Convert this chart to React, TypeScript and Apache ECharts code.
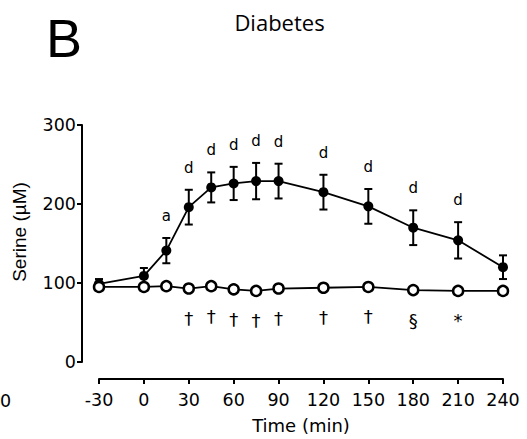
import React, { useEffect, useRef } from "react";
import * as echarts from "echarts";

const times = [-30, 0, 15, 30, 45, 60, 75, 90, 120, 150, 180, 210, 240];
const diabetesMean = [99, 109, 141, 196, 221, 226, 229, 229, 215, 197, 170, 154, 120];
const diabetesSem = [6, 10, 16, 22, 19, 21, 23, 22, 22, 22, 22, 23, 15];
const controlMean = [95, 95, 96, 93, 96, 92, 90, 93, 94, 95, 91, 90, 90];
const controlSem = [4, 4, 3, 4, 3, 4, 3, 3, 3, 3, 3, 3, 3];
const upperMarks = ["", "", "a", "d", "d", "d", "d", "d", "d", "d", "d", "d", ""];
const lowerMarks = ["", "", "", "†", "†", "†", "†", "†", "†", "†", "§", "*", ""];
const xTicks = { min: -30, max: 240, interval: 30 };
const yTicks = { min: 0, max: 300, interval: 100 };

const AXIS_FONT = "DejaVu Sans";

function errorBarSeries(mean: number[], sem: number[], z: number) {
  return {
    type: "custom",
    z,
    renderItem: (params: any, api: any) => {
      const x = api.value(0);
      const lo = api.coord([x, api.value(1)]);
      const hi = api.coord([x, api.value(2)]);
      const cap = 4;
      const st = { stroke: "#000", lineWidth: 2 };
      return {
        type: "group",
        children: [
          { type: "line", shape: { x1: lo[0], y1: lo[1], x2: hi[0], y2: hi[1] }, style: st },
          { type: "line", shape: { x1: lo[0] - cap, y1: lo[1], x2: lo[0] + cap, y2: lo[1] }, style: st },
          { type: "line", shape: { x1: hi[0] - cap, y1: hi[1], x2: hi[0] + cap, y2: hi[1] }, style: st },
        ],
      };
    },
    encode: { x: 0, y: [1, 2] },
    data: times.map((t, i) => [t, mean[i] - sem[i], mean[i] + sem[i]]),
    silent: true,
  };
}

export default function App() {
  const ref = useRef<HTMLDivElement>(null);
  useEffect(() => {
    if (!ref.current) return;
    const chart = echarts.init(ref.current, undefined, { renderer: "svg" });
    chart.setOption({
      animation: false,
      backgroundColor: "#fff",
      grid: { left: 99, right: 24, top: 125, bottom: 77 },
      xAxis: {
        type: "value",
        min: xTicks.min,
        max: xTicks.max,
        interval: xTicks.interval,
        offset: 17,
        name: "Time (min)",
        nameLocation: "middle",
        nameGap: 37,
        nameTextStyle: { fontFamily: AXIS_FONT, fontSize: 18, color: "#000" },
        axisLine: { show: true, onZero: false, lineStyle: { color: "#000", width: 2 } },
        axisTick: { show: true, length: 5, lineStyle: { color: "#000", width: 2 } },
        axisLabel: { fontFamily: AXIS_FONT, fontSize: 17.5, color: "#000", margin: 12 },
        splitLine: { show: false },
      },
      yAxis: {
        type: "value",
        min: yTicks.min,
        max: yTicks.max,
        interval: yTicks.interval,
        offset: 17,
        axisLine: { show: true, onZero: false, lineStyle: { color: "#000", width: 2 } },
        axisTick: { show: true, length: 5, lineStyle: { color: "#000", width: 2 } },
        axisLabel: { fontFamily: AXIS_FONT, fontSize: 17.5, color: "#000", margin: 6 },
        splitLine: { show: false },
      },
      graphic: [
        {
          type: "text",
          x: 279.5,
          y: 22,
          style: { text: "Diabetes", fontFamily: "Open Sans", fontSize: 22, fill: "#000", align: "center", verticalAlign: "middle" },
        },
        {
          type: "text",
          x: 46,
          y: 38,
          style: { text: "B", fontFamily: "Liberation Sans", fontSize: 54, fill: "#000", align: "left", verticalAlign: "middle" },
        },
        {
          type: "text",
          x: 19.5,
          y: 232,
          rotation: Math.PI / 2,
          style: { text: "Serine (µM)", fontFamily: "Liberation Sans", fontSize: 19, fill: "#000", align: "center", verticalAlign: "middle" },
        },
        {
          type: "text",
          x: 0,
          y: 401,
          style: { text: "0", fontFamily: AXIS_FONT, fontSize: 17.5, fill: "#000", align: "left", verticalAlign: "middle" },
        },
      ],
      series: [
        errorBarSeries(diabetesMean, diabetesSem, 2),
        {
          type: "line",
          z: 3,
          data: times.map((t, i) => [t, diabetesMean[i]]),
          symbol: "circle",
          symbolSize: 10,
          lineStyle: { color: "#000", width: 1.8 },
          itemStyle: { color: "#000" },
        },
        errorBarSeries(controlMean, controlSem, 4),
        {
          type: "line",
          z: 5,
          data: times.map((t, i) => [t, controlMean[i]]),
          symbol: "circle",
          symbolSize: 10,
          lineStyle: { color: "#000", width: 1.8 },
          itemStyle: { color: "#fff", borderColor: "#000", borderWidth: 2.5 },
        },
        {
          type: "custom",
          z: 6,
          silent: true,
          encode: { x: 0, y: 1 },
          data: times.map((t, i) => [t, diabetesMean[i] + diabetesSem[i]]),
          renderItem: (params: any, api: any) => {
            const p = api.coord([api.value(0), api.value(1)]);
            return {
              type: "text",
              x: p[0],
              y: p[1] - 22,
              style: { text: upperMarks[params.dataIndex], fontFamily: AXIS_FONT, fontSize: 15, fill: "#000", align: "center", verticalAlign: "middle" },
            };
          },
        },
        {
          type: "custom",
          z: 6,
          silent: true,
          encode: { x: 0, y: 1 },
          data: times.map((t, i) => [t, controlMean[i]]),
          renderItem: (params: any, api: any) => {
            const p = api.coord([api.value(0), api.value(1)]);
            return {
              type: "text",
              x: p[0],
              y: p[1] + 30,
              style: { text: lowerMarks[params.dataIndex], fontFamily: AXIS_FONT, fontSize: 18, fill: "#000", align: "center", verticalAlign: "middle" },
            };
          },
        },
      ],
    });
    return () => chart.dispose();
  }, []);
  return <div ref={ref} style={{ width: 527, height: 439, position: "fixed", left: 0, top: 0 }} />;
}
